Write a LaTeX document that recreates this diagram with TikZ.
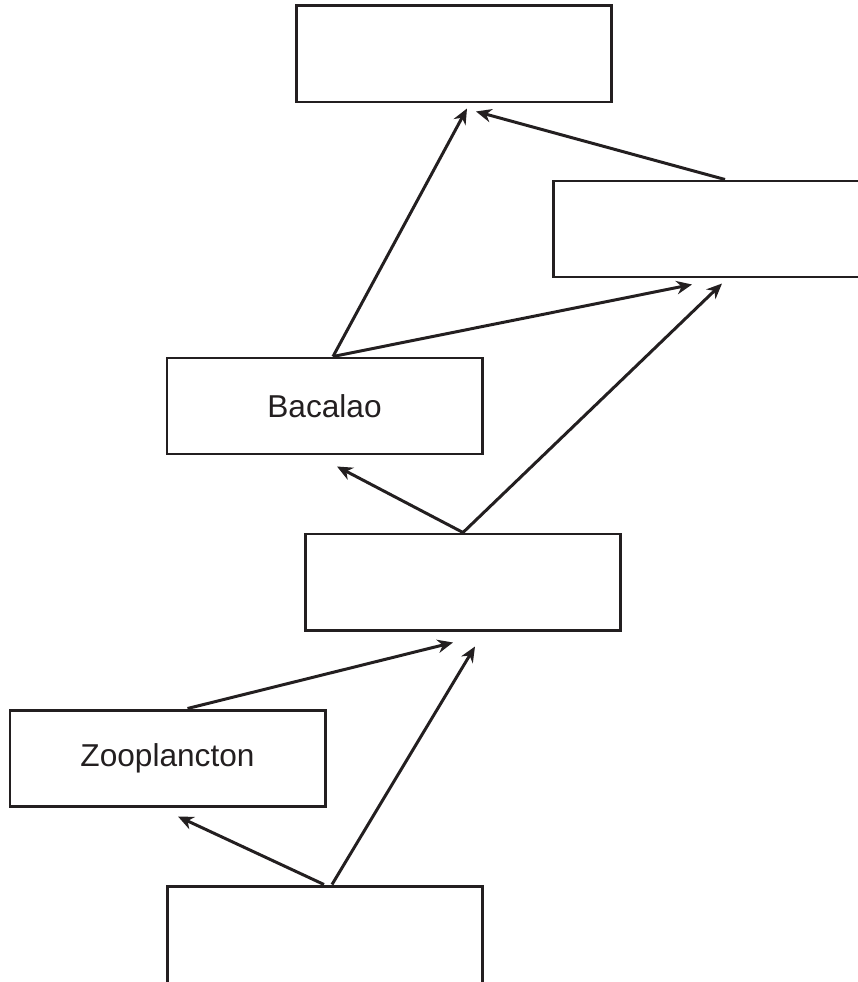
\documentclass[tikz,border=0pt]{standalone}
\usepackage{fontspec}
\setmainfont{Liberation Sans}
\usetikzlibrary{positioning,arrows,arrows.meta,calc}
\definecolor{InkBlack}{RGB}{35,31,32}
\tikzset{>={Stealth[length=4.4pt,width=3.8pt,inset=1.4pt]}}

\begin{document}
\begin{tikzpicture}[scale=1.0,
        box/.style={draw=InkBlack,line width=0.85pt,minimum width=3.15cm,minimum height=0.96cm,inner sep=0pt,text=InkBlack,font=\fontsize{9}{11}\selectfont},
        link/.style={->,draw=InkBlack,line width=0.85pt}]
        \useasboundingbox (0,0) rectangle (8.58,-9.82);
        \clip (0,0) rectangle (8.58,-9.82);
        % draw boxes
        \node[box] at (4.535,-0.54) (top) {};
        \node[box] at (7.105,-2.29) (right) {};
        \node[box] at (3.245,-4.06) (bac) {Bacalao};
        \node[box] at (4.63,-5.82) (mid) {};
        \node[box] at (1.675,-7.58) (zoo) {Zooplancton};
        \node[box,minimum height=1.0cm] at (3.25,-9.36) (bot) {};
        % draw arrows
        \draw[link] ($(bac.north)+(0.085,0)$) -- ($(top.south)+(0.135,-0.05)$);
        \draw[link] ($(right.north)+(0.145,0)$) -- ($(top.south)+(0.225,-0.08)$);
        \draw[link] ($(bac.north)+(0.085,0)$) -- ($(right.south)+(-0.185,-0.06)$);
        \draw[link] (mid.north) -- ($(bac.south)+(0.125,-0.11)$);
        \draw[link] (mid.north) -- ($(right.south)+(0.115,-0.05)$);
        \draw[link] ($(zoo.north)+(0.2,0)$) -- ($(mid.south)+(-0.10,-0.11)$);
        \draw[link] ($(bot.north)+(0.07,0)$) -- ($(mid.south)+(0.12,-0.15)$);
        \draw[link] ($(bot.north)+(-0.01,0)$) -- ($(zoo.south)+(0.105,-0.09)$);
    \end{tikzpicture}
\end{document}
